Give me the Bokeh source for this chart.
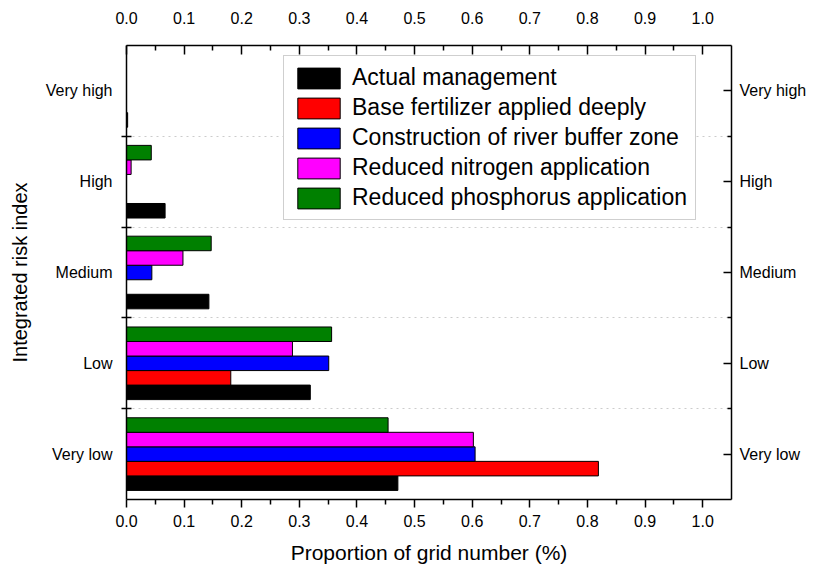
from bokeh.plotting import figure
from bokeh.models import FixedTicker, LinearAxis, Range1d, ColumnDataSource, PrintfTickFormatter
from bokeh.embed import file_html
from bokeh.resources import INLINE

# ---- data ----
categories = ["Very low", "Low", "Medium", "High", "Very high"]
series_names = [
    "Actual management",
    "Base fertilizer applied deeply",
    "Construction of river buffer zone",
    "Reduced nitrogen application",
    "Reduced phosphorus application",
]
actual_management = [0.471, 0.319, 0.143, 0.067, 0.002]
base_fertilizer = [0.819, 0.181, 0.0, 0.0, 0.0]
river_buffer = [0.605, 0.351, 0.044, 0.0, 0.0]
reduced_nitrogen = [0.602, 0.288, 0.098, 0.008, 0.0]
reduced_phosphorus = [0.454, 0.356, 0.147, 0.043, 0.0]
series_values = [actual_management, base_fertilizer, river_buffer,
                 reduced_nitrogen, reduced_phosphorus]
series_colors = ["#000000", "#FF0000", "#0000FF", "#FF00FF", "#008000"]
x_ticks = [0.0, 0.1, 0.2, 0.3, 0.4, 0.5, 0.6, 0.7, 0.8, 0.9, 1.0]
x_minor_ticks = [0.05, 0.15, 0.25, 0.35, 0.45, 0.55, 0.65, 0.75, 0.85, 0.95]

FONT = "Liberation Sans"
BAR_H = 0.16

p = figure(width=809, height=566, output_backend="svg", toolbar_location=None,
           x_range=Range1d(0, 1.05), y_range=Range1d(0, 5),
           min_border_left=126, min_border_right=75, min_border_top=45,
           min_border_bottom=66, x_axis_location="below", y_axis_location="left")
p.background_fill_color = "white"
p.border_fill_color = "white"
p.outline_line_color = None

y_centers = [i + 0.5 for i in range(len(categories))]
y_bounds = [1, 2, 3, 4]
offsets = [-0.32, -0.16, 0.0, 0.16, 0.32]

for name, vals, col, off in zip(series_names, series_values, series_colors, offsets):
    src = ColumnDataSource(dict(y=[c + off for c in y_centers], x=vals))
    p.hbar(y="y", left=0, right="x", height=BAR_H, source=src,
           fill_color=col, line_color="black", line_width=1, legend_label=name)

# grids
p.xgrid.visible = False
p.ygrid.ticker = FixedTicker(ticks=y_bounds)
p.ygrid.grid_line_color = "#cccccc"
p.ygrid.grid_line_dash = "dotted"
p.ygrid.grid_line_width = 1

overrides = {c: lab for c, lab in zip(y_centers, categories)}


def style_common(ax, size):
    ax.axis_line_width = 1.5
    ax.axis_line_color = "black"
    ax.major_tick_line_width = 1.5
    ax.minor_tick_line_width = 1.5
    ax.major_tick_line_color = "black"
    ax.minor_tick_line_color = "black"
    ax.major_label_text_font = FONT
    ax.major_label_text_font_size = size
    ax.major_label_text_color = "black"
    ax.axis_label_text_font = FONT
    ax.axis_label_text_font_style = "normal"
    ax.axis_label_text_color = "black"


# bottom x axis
xb = p.xaxis[0]
xb.ticker = FixedTicker(ticks=x_ticks, minor_ticks=x_minor_ticks)
xb.formatter = PrintfTickFormatter(format="%.1f")
style_common(xb, "16px")
xb.major_tick_in = 0
xb.major_tick_out = 8
xb.minor_tick_in = 0
xb.minor_tick_out = 5
xb.major_label_standoff = 7
xb.axis_label = "Proportion of grid number (%)"
xb.axis_label_text_font_size = "21px"
xb.axis_label_standoff = 11

# top x axis
xt = LinearAxis(ticker=FixedTicker(ticks=x_ticks, minor_ticks=x_minor_ticks),
                formatter=PrintfTickFormatter(format="%.1f"))
style_common(xt, "16px")
xt.major_tick_in = 9
xt.major_tick_out = 0
xt.minor_tick_in = 5
xt.minor_tick_out = 0
xt.major_label_standoff = 22
p.add_layout(xt, "above")

# left y axis
yl = p.yaxis[0]
yl.ticker = FixedTicker(ticks=y_centers, minor_ticks=y_bounds)
yl.major_label_overrides = overrides
style_common(yl, "16px")
yl.major_tick_in = 0
yl.major_tick_out = 0
yl.minor_tick_in = 5
yl.minor_tick_out = 5
yl.major_label_standoff = 9
yl.axis_label = "Integrated risk index"
yl.axis_label_text_font_size = "20px"
yl.axis_label_standoff = 12

# right y axis
yr = LinearAxis(ticker=FixedTicker(ticks=y_centers, minor_ticks=y_bounds))
yr.major_label_overrides = overrides
style_common(yr, "16px")
yr.major_tick_in = 8
yr.major_tick_out = 0
yr.minor_tick_in = 4
yr.minor_tick_out = 0
yr.major_label_standoff = 8
p.add_layout(yr, "right")

# legend
lg = p.legend[0]
lg.location = (157, 279)
lg.label_text_font = FONT
lg.label_text_font_size = "23px"
lg.label_text_color = "black"
lg.glyph_width = 53
lg.glyph_height = 26
lg.label_height = 26
lg.spacing = 3
lg.padding = 8
lg.margin = 0
lg.label_standoff = 7
lg.border_line_color = "#a0a0a0"
lg.border_line_width = 1
lg.background_fill_color = "white"
lg.background_fill_alpha = 1.0

open("out.html", "w").write(file_html(p, INLINE))
